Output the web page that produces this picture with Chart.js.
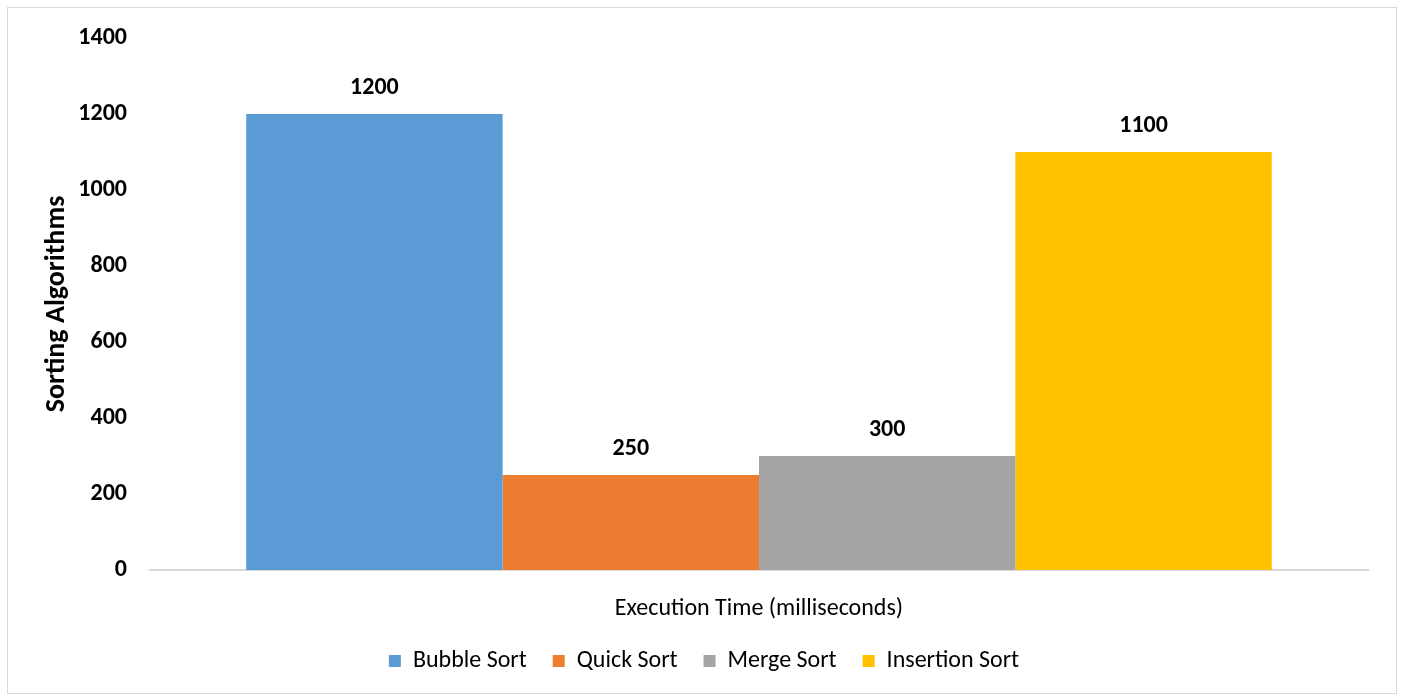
<!DOCTYPE html>
<html lang="en">
<head>
    <meta charset="UTF-8">
    <title>Sorting Algorithms</title>
    <script src="https://cdn.jsdelivr.net/npm/chart.js"></script>
    <style>
        html, body {
            margin: 0;
            padding: 0;
            background: #ffffff;
        }
        #frame {
            position: absolute;
            left: 7px;
            top: 7px;
            width: 1390px;
            height: 687px;
            border: 1px solid #d9d9d9;
            box-sizing: border-box;
        }
        #wrap {
            position: absolute;
            left: 0;
            top: 0;
            width: 1402px;
            height: 697px;
        }
    </style>
</head>
<body>
    <div id="frame"></div>
    <div id="wrap">
        <canvas id="barChart"></canvas>
    </div>

    <script>
        const categories = [''];
        const algorithms = ['Bubble Sort', 'Quick Sort', 'Merge Sort', 'Insertion Sort'];
        const execTimes = [1200, 250, 300, 1100];
        const barColors = ['#5B9BD5', '#ED7D31', '#A5A5A5', '#FFC000'];
        const yTicks = [0, 200, 400, 600, 800, 1000, 1200, 1400];

        const fontFamily = "Carlito, 'Open Sans', sans-serif";

        // value labels above each bar
        const valueLabels = {
            id: 'valueLabels',
            afterDatasetsDraw(chart) {
                const ctx = chart.ctx;
                ctx.save();
                ctx.font = 'bold 24px ' + fontFamily;
                ctx.fillStyle = '#000000';
                ctx.textAlign = 'center';
                ctx.textBaseline = 'alphabetic';
                chart.data.datasets.forEach((ds, i) => {
                    chart.getDatasetMeta(i).data.forEach((bar, j) => {
                        ctx.fillText(String(ds.data[j]), bar.x, bar.y - 20);
                    });
                });
                ctx.restore();
            }
        };

        const datasets = algorithms.map((name, i) => ({
            label: name,
            data: [execTimes[i]],
            backgroundColor: barColors[i],
            borderWidth: 0,
            categoryPercentage: 0.842,
            barPercentage: 1.0
        }));

        new Chart(document.getElementById('barChart'), {
            type: 'bar',
            data: {
                labels: categories,
                datasets: datasets
            },
            plugins: [valueLabels],
            options: {
                responsive: true,
                maintainAspectRatio: false,
                animation: false,
                layout: {
                    padding: { left: 40, right: 34, top: 38, bottom: 14 }
                },
                plugins: {
                    legend: {
                        position: 'bottom',
                        labels: {
                            boxWidth: 12,
                            boxHeight: 12,
                            padding: 26,
                            color: '#000000',
                            font: { family: fontFamily, size: 24 }
                        }
                    },
                    tooltip: { enabled: false }
                },
                scales: {
                    x: {
                        grid: { display: false },
                        border: { color: '#d9d9d9', width: 2 },
                        ticks: { display: false },
                        title: {
                            display: true,
                            text: 'Execution Time (milliseconds)',
                            color: '#000000',
                            font: { family: fontFamily, size: 24 },
                            padding: { top: 0, bottom: 0 }
                        },
                        afterFit(scale) {
                            scale.height = 53;
                        }
                    },
                    y: {
                        min: 0,
                        max: 1400,
                        afterBuildTicks(scale) {
                            scale.ticks = yTicks.map(v => ({ value: v }));
                        },
                        grid: { display: false, drawTicks: false },
                        border: { display: false },
                        ticks: {
                            color: '#000000',
                            padding: 23,
                            font: { family: fontFamily, size: 24, weight: 'bold' },
                            callback: (value) => String(value)
                        },
                        title: {
                            display: true,
                            text: 'Sorting Algorithms',
                            color: '#000000',
                            font: { family: fontFamily, size: 28, weight: 'bold' },
                            padding: { top: 0, bottom: 0 }
                        },
                        afterFit(scale) {
                            scale.width = 110;
                        }
                    }
                }
            }
        });
    </script>
</body>
</html>
